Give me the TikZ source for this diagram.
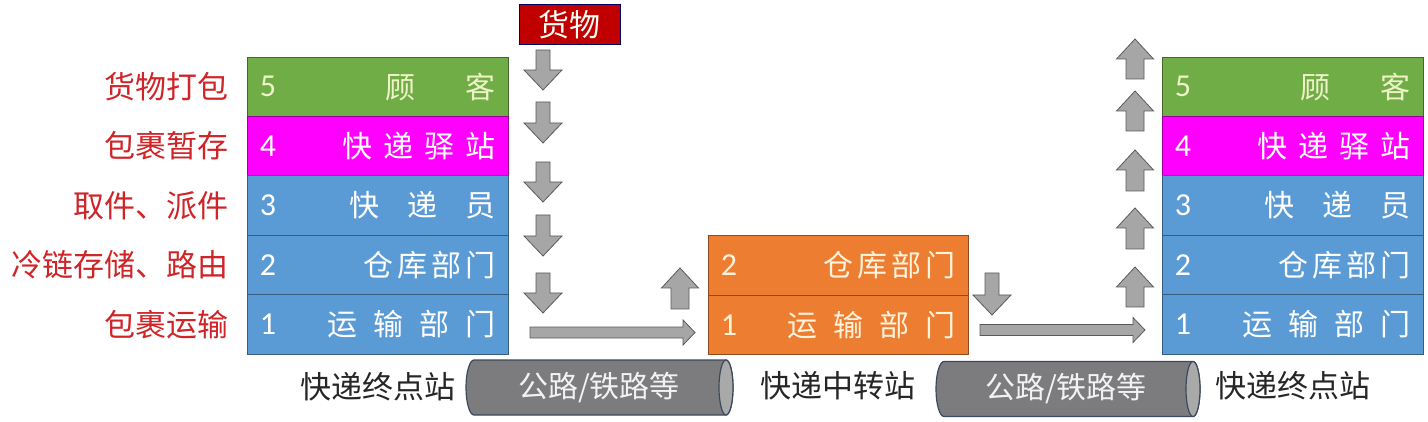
\documentclass[tikz,border=0pt]{standalone}
\usepackage{fontspec}
\newfontfamily\cjk{Noto Sans CJK SC}
\newfontfamily\numf{Carlito}
\definecolor{cgreen}{HTML}{70AD47}
\definecolor{cmag}{HTML}{FF00FF}
\definecolor{cblue}{HTML}{5B9BD5}
\definecolor{corange}{HTML}{ED7D31}
\definecolor{cred}{HTML}{CF2428}
\definecolor{cgoods}{HTML}{C00000}
\definecolor{arrfill}{HTML}{A6A6A6}
\definecolor{arrline}{HTML}{5A5A5A}
\definecolor{cylbody}{HTML}{7C7C7F}
\definecolor{cylend}{HTML}{A9A9A9}
\definecolor{cylline}{HTML}{3A4A5C}
\definecolor{paleG}{HTML}{EEF3C8}
\definecolor{paleO}{HTML}{FFF3DC}
\newcommand{\DnArr}[3]{\draw[blockarr] (#1-7,#2) -- (#1+7,#2) -- (#1+7,#3-20) -- (#1+19,#3-20) -- (#1,#3) -- (#1-19,#3-20) -- (#1-7,#3-20) -- cycle;}
\newcommand{\UpArr}[3]{\draw[blockarr] (#1-9,#3) -- (#1+9,#3) -- (#1+9,#2+20) -- (#1+18.5,#2+20) -- (#1,#2) -- (#1-18.5,#2+20) -- (#1-9,#2+20) -- cycle;}
\newcommand{\RtArr}[3]{\draw[blockarr] (#1,#3-5.5) -- (#2-12,#3-5.5) -- (#2-12,#3-12.5) -- (#2,#3) -- (#2-12,#3+12.5) -- (#2-12,#3+5.5) -- (#1,#3+5.5) -- cycle;}
\begin{document}
\begin{tikzpicture}[x=1pt,y=-1pt,
  row/.style={draw=#1!60!black, fill=#1, line width=0.8pt, minimum width=261pt, minimum height=59.4pt, inner sep=0pt},
  num/.style={font=\numf\fontsize{32}{33}\selectfont, text=white, anchor=west, inner sep=0pt},
  lab/.style={font=\cjk\fontsize{30}{32}\selectfont, text=white, anchor=east, inner sep=0pt},
  redlab/.style={font=\cjk\fontsize{31}{33}\selectfont, text=cred, anchor=east, inner sep=0pt},
  sitelab/.style={font=\cjk\fontsize{31}{33}\selectfont, text=black!85, inner sep=0pt},
  cyltext/.style={font=\cjk\fontsize{30}{32}\selectfont, text=white!95!black, inner sep=0pt},
  blockarr/.style={fill=arrfill, draw=arrline, line width=0.8pt},
  cyl/.style={fill=cylbody, draw=cylline, line width=1.2pt}
]
\useasboundingbox (0,0) rectangle (1428,422);

% ---------- left stack ----------
\node[row=cgreen]  (L5) at (377.5,86.7)  {};
\node[row=cmag]    (L4) at (377.5,146.1) {};
\node[row=cblue]   (L3) at (377.5,205.5) {};
\node[row=cblue]   (L2) at (377.5,264.9) {};
\node[row=cblue]   (L1) at (377.5,324.3) {};
\node[num, text=paleG] (L5n) at ([xshift=13pt]L5.west) {5};
\node[num] (L4n) at ([xshift=13pt]L4.west) {4};
\node[num] (L3n) at ([xshift=13pt]L3.west) {3};
\node[num] (L2n) at ([xshift=13pt]L2.west) {2};
\node[num] (L1n) at ([xshift=13pt]L1.west) {1};
\node[lab, text=paleG] (L5t) at ([xshift=-13pt]L5.east) {顾\hspace{50pt}客};
\node[lab] (L4t) at ([xshift=-13pt]L4.east) {快\hspace{11pt}递\hspace{11pt}驿\hspace{11pt}站};
\node[lab] (L3t) at ([xshift=-13pt]L3.east) {快\hspace{28pt}递\hspace{28pt}员};
\node[lab] (L2t) at ([xshift=-13pt]L2.east) {仓\hspace{4pt}库\hspace{4pt}部\hspace{4pt}门};
\node[lab] (L1t) at ([xshift=-13pt]L1.east) {运\hspace{16pt}输\hspace{16pt}部\hspace{16pt}门};

% ---------- red labels ----------
\node[redlab] (r5) at (229,86.7)  {货物打包};
\node[redlab] (r4) at (229,146.1) {包裹暂存};
\node[redlab] (r3) at (229,205.5) {取件、派件};
\node[redlab] (r2) at (229,264.9) {冷链存储、路由};
\node[redlab] (r1) at (229,324.3) {包裹运输};

% ---------- goods ----------
\node[fill=cgoods, draw=black!60!blue, line width=1pt, minimum width=101pt, minimum height=40pt, inner sep=0pt,
      font=\cjk\fontsize{31}{33}\selectfont, text=white!96!yellow] (goods) at (569.5,25) {货物};

% ---------- middle stack ----------
\node[row=corange, minimum width=260pt] (M2) at (838,265.5) {};
\node[row=corange, minimum width=260pt] (M1) at (838,324.8) {};
\node[num, text=paleO] (M2n) at ([xshift=13pt]M2.west) {2};
\node[num, text=paleO] (M1n) at ([xshift=13pt]M1.west) {1};
\node[lab, text=paleO] (M2t) at ([xshift=-13pt]M2.east) {仓\hspace{4pt}库\hspace{4pt}部\hspace{4pt}门};
\node[lab, text=paleO] (M1t) at ([xshift=-13pt]M1.east) {运\hspace{16pt}输\hspace{16pt}部\hspace{16pt}门};

% ---------- right stack ----------
\node[row=cgreen]  (R5) at (1292.5,86.7)  {};
\node[row=cmag]    (R4) at (1292.5,146.1) {};
\node[row=cblue]   (R3) at (1292.5,205.5) {};
\node[row=cblue]   (R2) at (1292.5,264.9) {};
\node[row=cblue]   (R1) at (1292.5,324.3) {};
\node[num, text=paleG] (R5n) at ([xshift=13pt]R5.west) {5};
\node[num] (R4n) at ([xshift=13pt]R4.west) {4};
\node[num] (R3n) at ([xshift=13pt]R3.west) {3};
\node[num] (R2n) at ([xshift=13pt]R2.west) {2};
\node[num] (R1n) at ([xshift=13pt]R1.west) {1};
\node[lab, text=paleG] (R5t) at ([xshift=-13pt]R5.east) {顾\hspace{50pt}客};
\node[lab] (R4t) at ([xshift=-13pt]R4.east) {快\hspace{11pt}递\hspace{11pt}驿\hspace{11pt}站};
\node[lab] (R3t) at ([xshift=-13pt]R3.east) {快\hspace{28pt}递\hspace{28pt}员};
\node[lab] (R2t) at ([xshift=-13pt]R2.east) {仓\hspace{4pt}库\hspace{4pt}部\hspace{4pt}门};
\node[lab] (R1t) at ([xshift=-13pt]R1.east) {运\hspace{16pt}输\hspace{16pt}部\hspace{16pt}门};

% ---------- block arrows ----------
\DnArr{543}{50}{90}
\DnArr{543}{102}{143}
\DnArr{543}{162}{202}
\DnArr{543}{215}{256}
\DnArr{543}{273}{313}
\RtArr{530}{695}{332.5}
\UpArr{680}{268}{309}
\DnArr{992}{273}{315}
\RtArr{980}{1145}{330}
\UpArr{1135}{39}{79}
\UpArr{1135}{91}{131}
\UpArr{1135}{150}{191}
\UpArr{1135}{208}{249}
\UpArr{1135}{267}{307}

% ---------- cylinders ----------
\draw[cyl] (726,360) -- (474,360) .. controls (469.6,360) and (466,372.3) .. (466,387.5)
  .. controls (466,402.7) and (469.6,415) .. (474,415) -- (726,415)
  .. controls (729.9,415) and (733,402.7) .. (733,387.5)
  .. controls (733,372.3) and (729.9,360) .. (726,360) -- cycle;
\draw[cyl, fill=cylend] (726,387.5) ellipse [x radius=7, y radius=27.5];
\node[cyltext] (road1) at (599,387.5) {公路/铁路等};

\draw[cyl] (1193,361.5) -- (944,361.5) .. controls (939.6,361.5) and (936,373.8) .. (936,389)
  .. controls (936,404.2) and (939.6,416.5) .. (944,416.5) -- (1193,416.5)
  .. controls (1196.9,416.5) and (1200,404.2) .. (1200,389)
  .. controls (1200,373.8) and (1196.9,361.5) .. (1193,361.5) -- cycle;
\draw[cyl, fill=cylend] (1193,389) ellipse [x radius=7, y radius=27.5];
\node[cyltext] (road2) at (1066,389) {公路/铁路等};

% ---------- site labels ----------
\node[sitelab, anchor=east] (site1) at (456,386.5) {快递终点站};
\node[sitelab] (site2) at (838,386) {快递中转站};
\node[sitelab, anchor=west] (site3) at (1215,386) {快递终点站};
\end{tikzpicture}
\end{document}
